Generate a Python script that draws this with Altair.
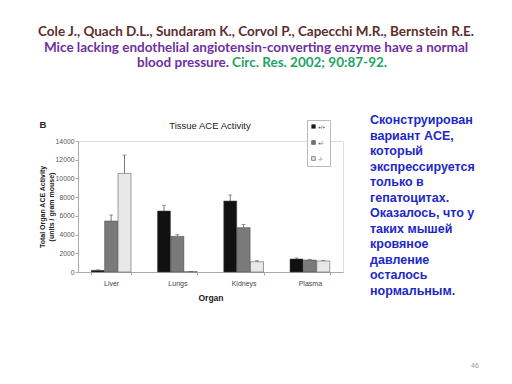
import altair as alt
import pandas as pd

organs = ["Liver", "Lungs", "Kidneys", "Plasma"]
genotypes = ["+/+", "+/-", "-/-"]
wt_mean = [180, 6520, 7590, 1390]
het_mean = [5450, 3810, 4740, 1280]
ko_mean = [10540, 50, 1100, 1175]
wt_top = [230, 7130, 8230, 1500]
het_top = [6090, 3990, 5090, 1360]
ko_top = [12500, 60, 1210, 1250]
y_ticks = [0, 2000, 4000, 6000, 8000, 10000, 12000, 14000]
bar_colors = ["#111111", "#7a7a7a", "#e8e8e8"]

header1 = "Cole J., Quach D.L., Sundaram K., Corvol P., Capecchi M.R., Bernstein R.E."
header2 = "Mice lacking endothelial angiotensin-converting enzyme have a normal"
header3a = "blood pressure."
header3b = "Circ. Res. 2002; 90:87-92."
panel_letter = "B"
chart_title = "Tissue ACE Activity"
y_title = ["Total Organ ACE Activity", "(units / gram mouse)"]
x_title = "Organ"
ru_lines = [
    "Сконструирован",
    "вариант ACE,",
    "который",
    "экспрессируется",
    "только в",
    "гепатоцитах.",
    "Оказалось, что у",
    "таких мышей",
    "кровяное",
    "давление",
    "осталось",
    "нормальным.",
]
page_no = "46"

rows = []
for g, means, tops in zip(genotypes, [wt_mean, het_mean, ko_mean], [wt_top, het_top, ko_top]):
    for o, m, t in zip(organs, means, tops):
        rows.append({"organ": o, "genotype": g, "value": m, "err": t})
df = pd.DataFrame(rows)

FONT = "Liberation Sans"

x_enc = alt.X(
    "organ:N", sort=organs,
    scale=alt.Scale(paddingInner=0.4, paddingOuter=0.2),
    axis=alt.Axis(title=x_title, labelAngle=0, tickBand="extent", labelFontSize=7,
                  labelPadding=4, tickSize=3, titleFontSize=8.5, titleFontWeight="bold",
                  titlePadding=7, domainColor="#aaa", tickColor="#aaa",
                  labelColor="#444", titleColor="#222", labelFont=FONT, titleFont=FONT),
)
xo_enc = alt.XOffset("genotype:N", sort=genotypes, scale=alt.Scale(paddingInner=0.03))
y_axis = alt.Axis(title=y_title, values=y_ticks, format="d", grid=False, labelFontSize=6.8,
                  tickSize=3, labelPadding=1, titleFontSize=7, titleFontWeight="bold",
                  titlePadding=1, titleLineHeight=9, domainColor="#aaa", tickColor="#aaa",
                  labelColor="#555", titleColor="#222", labelFont=FONT, titleFont=FONT)
y_scale = alt.Scale(domain=[0, 14000], nice=False)

base = alt.Chart(df)
bars = base.mark_bar(stroke="#444", strokeWidth=0.5).encode(
    x=x_enc, xOffset=xo_enc,
    y=alt.Y("value:Q", scale=y_scale, axis=y_axis),
    color=alt.Color("genotype:N", sort=genotypes,
                    scale=alt.Scale(domain=genotypes, range=bar_colors),
                    legend=alt.Legend(title=None, orient="none", legendX=229, legendY=-21,
                                      symbolType="square", symbolSize=14,
                                      symbolStrokeColor="#444", symbolStrokeWidth=0.6,
                                      labelFontSize=5, labelFont=FONT, labelColor="#333",
                                      rowPadding=9, padding=4, strokeColor="#bbb",
                                      fillColor="white", labelOffset=2)),
)
rules = base.mark_rule(color="#555", strokeWidth=0.8).encode(
    x=x_enc, xOffset=xo_enc,
    y=alt.Y("value:Q", scale=y_scale, axis=y_axis), y2="err:Q",
)
caps = base.mark_tick(color="#555", thickness=0.8, size=4).encode(
    x=x_enc, xOffset=xo_enc,
    y=alt.Y("err:Q", scale=y_scale, axis=y_axis),
)

one = pd.DataFrame({"k": [0]})

def label(txt, x, y, size, color, weight="normal", font=FONT, align="center",
          baseline="middle", line_height=None):
    kw = dict(fontSize=size, color=color, fontWeight=weight, font=font, align=align,
              baseline=baseline, text=txt)
    if line_height is not None:
        kw["lineHeight"] = line_height
    return alt.Chart(one).mark_text(**kw).encode(x=alt.value(x), y=alt.value(y))

texts = [
    label(header1, 178, -109, 13.5, "#5c2e2e", "bold", "Lato"),
    label(header2, 178, -93, 13.5, "#7030a0", "bold", "Lato"),
    label(header3a, 151, -78, 13.5, "#7030a0", "bold", "Lato", align="right"),
    label(header3b, 154, -78, 13.5, "#1fa463", "bold", "Lato", align="left"),
    label(panel_letter, -35, -16, 9.5, "#222", "bold"),
    label(chart_title, 132, -15, 9.5, "#222"),
    label(ru_lines, 292, -17, 12.5, "#1c28c8", "bold", align="left",
          baseline="alphabetic", line_height=15.5),
    label(page_no, 397, 225, 7, "#999"),
]

chart = alt.layer(bars, rules, caps, *texts).properties(
    width=265, height=131,
    autosize=alt.AutoSizeParams(type="none"),
    padding={"left": 70, "top": 133, "right": 161, "bottom": 100},
).configure_view(stroke=None).configure(background="white")

chart.save("out.html", embed_options={"renderer": "svg", "actions": False})
